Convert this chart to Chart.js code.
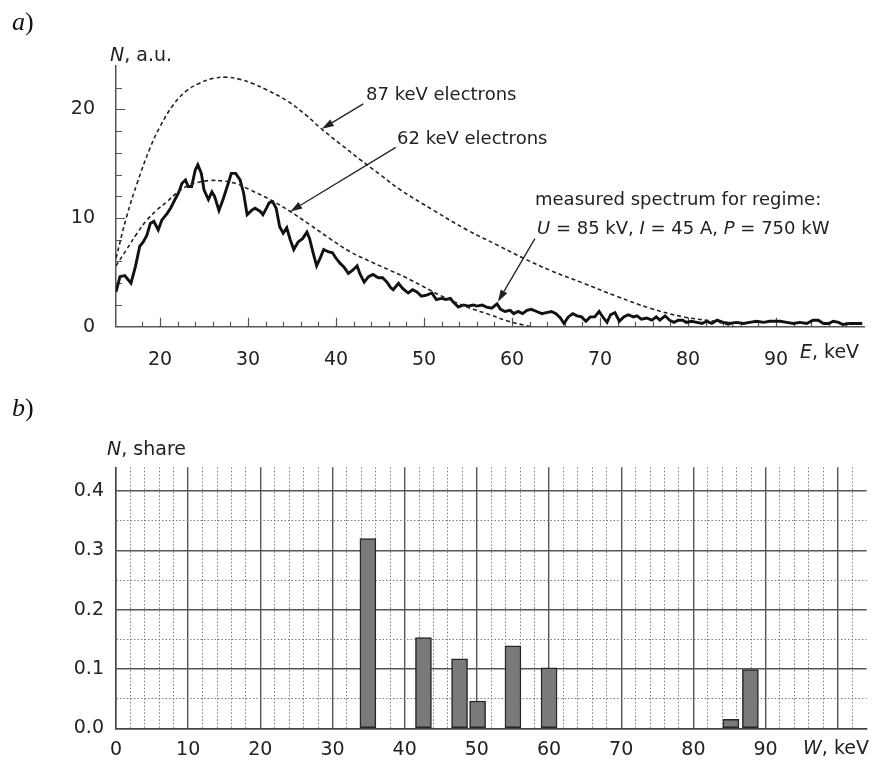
<!DOCTYPE html>
<html>
<head>
<meta charset="utf-8">
<script src="https://cdn.jsdelivr.net/npm/chart.js@4"></script>
<style>
  body { margin: 0; background: #fff; }
  #wrap { position: relative; width: 878px; height: 770px; overflow: hidden; }
  canvas { position: absolute; left: 0; }
  .t { position: absolute; font-family: "DejaVu Sans", sans-serif; font-size: 19px; line-height: 1; white-space: nowrap; color: #222; }
  .n { font-size: 18px; }
  .pl { font-family: "Liberation Serif", serif; font-size: 26px; color: #111; }
</style>
</head>
<body>
<div id="wrap">
  <canvas id="spec" width="878" height="385" style="top:0"></canvas>
  <canvas id="share" width="878" height="385" style="top:385px"></canvas>

  <div class="t pl" style="left:12px;top:9px"><i>a</i>)</div>
  <div class="t" style="left:110px;top:45px"><i>N</i>, a.u.</div>
  <div class="t" style="left:800px;top:342px"><i>E</i>, keV</div>
  <div class="t n" style="left:366px;top:85px">87 keV electrons</div>
  <div class="t n" style="left:397px;top:129px">62 keV electrons</div>
  <div class="t n" style="left:535px;top:190px">measured spectrum for regime:</div>
  <div class="t n" style="left:537px;top:219px"><i>U</i> = 85 kV, <i>I</i> = 45 A, <i>P</i> = 750 kW</div>

  <div class="t pl" style="left:12px;top:395px"><i>b</i>)</div>
  <div class="t" style="left:107px;top:439px"><i>N</i>, share</div>
  <div class="t" style="left:803px;top:738px"><i>W</i>, keV</div>
</div>
<script>
// (a) calculated spectra for mono-energetic electrons
const e87 = [15, 16.2, 17.4, 18.9, 20.0, 21.5, 23.0, 24.5, 26.1, 27.6, 29.1, 30.6, 32.1, 34.4, 36.7, 38.2, 40.5, 42.7, 45.0, 47.3, 51.1, 54.9, 58.6, 61.3, 64.3, 68.1, 71.9, 75.7, 79.5, 83.3, 84.4, 85.2];
const n87 = [6.3, 10.1, 13.2, 16.5, 18.4, 20.4, 21.7, 22.4, 22.85, 22.95, 22.75, 22.35, 21.8, 20.8, 19.4, 18.3, 16.8, 15.4, 14.0, 12.6, 10.7, 8.9, 7.4, 6.3, 5.2, 4.0, 2.8, 1.7, 0.9, 0.45, 0.2, 0];
const e62 = [15, 16.2, 17.4, 18.5, 19.6, 20.8, 21.9, 23.0, 24.2, 25.7, 27.2, 28.7, 30.2, 32.5, 34.8, 37.0, 39.3, 41.6, 43.9, 46.1, 48.0, 49.9, 51.8, 53.7, 55.6, 57.5, 59.4, 61.3, 62.2];
const n62 = [5.6, 7.1, 8.6, 9.8, 10.7, 11.5, 12.3, 12.9, 13.25, 13.45, 13.4, 13.15, 12.6, 11.7, 10.6, 9.4, 8.1, 6.9, 6.0, 5.2, 4.5, 3.7, 2.9, 2.2, 1.6, 1.1, 0.55, 0.15, 0];

// (a) measured spectrum, U = 85 kV
const measE = [15.0, 15.45, 16.0, 16.7, 17.2, 17.7, 18.1, 18.5, 18.9, 19.3, 19.8, 20.2, 20.8, 21.2, 21.7, 22.1, 22.5, 22.9, 23.2, 23.6,
  24.0, 24.3, 24.7, 25.0, 25.5, 25.9, 26.2, 26.7, 27.2, 27.8, 28.1, 28.6, 29.1, 29.5, 29.9, 30.4, 30.8, 31.4, 31.7, 32.1,
  32.4, 32.8, 33.2, 33.6, 34.0, 34.4, 34.8, 35.2, 35.7, 36.2, 36.7, 37.0, 37.4, 37.8, 38.2, 38.6, 39.1, 39.6, 40.0, 40.5,
  40.9, 41.4, 41.9, 42.4, 42.7, 43.2, 43.7, 44.2, 44.8, 45.3, 45.8, 46.2, 46.5, 47.1, 47.6, 48.2, 48.7, 49.2, 49.7, 50.3,
  50.9, 51.4, 52.0, 52.5, 53.0, 53.3, 53.9, 54.5, 55.0, 55.6, 56.0, 56.6, 57.1, 57.7, 58.3, 58.7, 59.2, 59.8, 60.2, 60.7,
  61.2, 61.7, 62.2, 62.8, 63.4, 63.9, 64.5, 65.0, 65.5, 65.9, 66.4, 66.9, 67.4, 67.9, 68.4, 68.9, 69.4, 69.9, 70.4, 70.8,
  71.2, 71.7, 72.2, 72.7, 73.2, 73.8, 74.2, 74.7, 75.3, 75.9, 76.4, 76.8, 77.4, 77.9, 78.4, 78.9, 79.4, 79.8, 80.4, 81.0,
  81.6, 82.1, 82.7, 83.3, 84.0, 84.8, 85.5, 86.3, 87.0, 87.8, 88.6, 89.3, 90.5, 91.2, 92.0, 92.7, 93.5, 94.2, 94.8, 95.4,
  96.0, 96.5, 97.1, 97.6, 98.4, 99.2, 99.8];
const measN = [3.2, 4.6, 4.7, 4.0, 5.5, 7.4, 7.8, 8.4, 9.5, 9.7, 8.9, 9.8, 10.4, 10.9, 11.7, 12.3, 13.2, 13.5, 12.9, 12.9,
  14.4, 14.9, 14.1, 12.6, 11.7, 12.4, 12.0, 10.7, 11.8, 13.3, 14.1, 14.1, 13.5, 12.3, 10.3, 10.7, 10.9, 10.6, 10.3, 10.9,
  11.4, 11.5, 10.9, 9.2, 8.6, 9.1, 8.0, 7.1, 7.8, 8.1, 8.7, 8.1, 6.8, 5.6, 6.3, 7.1, 6.9, 6.8, 6.3, 5.8,
  5.5, 4.9, 5.2, 5.6, 4.9, 4.1, 4.6, 4.8, 4.5, 4.5, 4.1, 3.6, 3.4, 4.0, 3.5, 3.1, 3.4, 3.2, 2.8, 2.9,
  3.1, 2.5, 2.6, 2.5, 2.6, 2.3, 1.8, 2.0, 1.9, 2.0, 1.9, 2.0, 1.8, 1.7, 2.1, 1.6, 1.4, 1.5, 1.2, 1.4,
  1.2, 1.5, 1.6, 1.4, 1.2, 1.3, 1.4, 1.2, 0.8, 0.3, 0.9, 1.2, 1.0, 0.9, 0.5, 0.9, 0.9, 1.4, 0.8, 0.4,
  1.1, 1.3, 0.5, 0.9, 1.1, 0.9, 1.0, 0.7, 0.8, 0.6, 0.9, 0.6, 1.0, 0.6, 0.4, 0.6, 0.6, 0.4, 0.5, 0.4,
  0.3, 0.5, 0.3, 0.6, 0.4, 0.3, 0.4, 0.3, 0.4, 0.5, 0.4, 0.5, 0.5, 0.4, 0.3, 0.4, 0.3, 0.6, 0.6, 0.3,
  0.3, 0.5, 0.4, 0.2, 0.3, 0.3, 0.3];

// (b) electron energy shares
const beamW = [34.9, 42.6, 47.6, 50.1, 55.0, 60.0, 85.2, 87.9];
const beamShare = [0.32, 0.153, 0.117, 0.046, 0.139, 0.102, 0.015, 0.099];

// arrows from the labels in (a), in data units [E, N]
const arrows = [
  { from: [43.1, 20.5], to: [38.4, 18.2] },
  { from: [46.8, 16.5], to: [34.8, 10.6] },
  { from: [62.6, 8.1], to: [58.4, 2.3] }
];

const pairs = (xs, ys) => xs.map((x, i) => ({ x: x, y: ys[i] }));
const tickFont = { family: 'DejaVu Sans', size: 19 };
const near = (v, step) => Math.abs(v / step - Math.round(v / step)) < 1e-6;

// ticks of (a) point into the plot
const inTicks = {
  id: 'inTicks',
  beforeDatasetsDraw(chart) {
    const { ctx, chartArea: a, scales: { x, y } } = chart;
    ctx.save();
    ctx.strokeStyle = '#555';
    ctx.lineWidth = 1.2;
    ctx.beginPath();
    x.ticks.forEach(t => {
      if (!near(t.value, 2) || t.value <= x.min || t.value >= x.max) return;
      const px = Math.round(x.getPixelForValue(t.value)) + 0.5;
      ctx.moveTo(px, a.bottom);
      ctx.lineTo(px, a.bottom - (near(t.value, 10) ? 9 : 5));
    });
    y.ticks.forEach(t => {
      if (t.value <= y.min || t.value >= y.max) return;
      const py = Math.round(y.getPixelForValue(t.value)) + 0.5;
      ctx.moveTo(a.left, py);
      ctx.lineTo(a.left + (near(t.value, 10) ? 9 : 6), py);
    });
    ctx.stroke();
    ctx.restore();
  }
};

const arrowPlugin = {
  id: 'arrows',
  afterDatasetsDraw(chart) {
    const { ctx, scales: { x, y } } = chart;
    ctx.save();
    ctx.strokeStyle = '#222';
    ctx.fillStyle = '#222';
    ctx.lineWidth = 1.3;
    arrows.forEach(ar => {
      const x1 = x.getPixelForValue(ar.from[0]), y1 = y.getPixelForValue(ar.from[1]);
      const x2 = x.getPixelForValue(ar.to[0]), y2 = y.getPixelForValue(ar.to[1]);
      const ang = Math.atan2(y2 - y1, x2 - x1);
      const len = 12, half = 3.8;
      const bx = x2 - len * Math.cos(ang), by = y2 - len * Math.sin(ang);
      ctx.beginPath();
      ctx.moveTo(x1, y1);
      ctx.lineTo(bx, by);
      ctx.stroke();
      ctx.beginPath();
      ctx.moveTo(x2, y2);
      ctx.lineTo(bx + half * Math.sin(ang), by - half * Math.cos(ang));
      ctx.lineTo(bx - half * Math.sin(ang), by + half * Math.cos(ang));
      ctx.closePath();
      ctx.fill();
    });
    ctx.restore();
  }
};

new Chart(document.getElementById('spec'), {
  type: 'line',
  data: {
    datasets: [{
      label: '87 keV electrons',
      data: pairs(e87, n87),
      borderColor: '#222',
      borderWidth: 1.6,
      borderDash: [4, 3],
      pointRadius: 0,
      tension: 0.4
    }, {
      label: '62 keV electrons',
      data: pairs(e62, n62),
      borderColor: '#222',
      borderWidth: 1.6,
      borderDash: [4, 3],
      pointRadius: 0,
      tension: 0.4
    }, {
      label: 'measured spectrum',
      data: pairs(measE, measN),
      borderColor: '#111',
      borderWidth: 2.9,
      pointRadius: 0,
      tension: 0
    }]
  },
  options: {
    responsive: false,
    animation: false,
    layout: { padding: { top: 65.8, right: 14, left: 0, bottom: 0 } },
    plugins: { legend: { display: false }, tooltip: { enabled: false } },
    scales: {
      x: {
        type: 'linear', min: 15, max: 100,
        afterFit: s => { s.height = 58.3; },
        grid: { display: false },
        border: { color: '#555', width: 1.5 },
        ticks: {
          stepSize: 2, autoSkip: false, maxRotation: 0, padding: 14, color: '#222', font: tickFont,
          callback: v => (near(v, 10) && v >= 20 && v <= 90) ? v : ''
        }
      },
      y: {
        min: 0, max: 24,
        afterFit: s => { s.width = 116; },
        grid: { display: false },
        border: { color: '#555', width: 1.5 },
        ticks: {
          stepSize: 2, autoSkip: false, padding: 13, color: '#222', font: tickFont,
          callback: v => near(v, 10) ? v : ''
        }
      }
    }
  },
  plugins: [inTicks, arrowPlugin]
});

const gridX = c => {
  const v = c.tick ? c.tick.value : 0;
  if (v > 102) return 'rgba(0,0,0,0)';
  return near(v, 10) ? '#555' : '#7c7c7c';
};
const gridY = c => {
  const v = c.tick ? c.tick.value : 0;
  return near(v, 0.1) ? '#555' : '#7c7c7c';
};

new Chart(document.getElementById('share'), {
  type: 'bar',
  data: {
    datasets: [{
      label: 'share',
      data: pairs(beamW, beamShare),
      backgroundColor: '#7a7a7a',
      borderColor: '#262626',
      borderWidth: 1.5,
      borderSkipped: false,
      barThickness: 16
    }]
  },
  options: {
    responsive: false,
    animation: false,
    layout: { padding: { top: 82.3, right: 11.4, left: 0, bottom: 0 } },
    plugins: { legend: { display: false }, tooltip: { enabled: false } },
    scales: {
      x: {
        type: 'linear', min: 0, max: 104, offset: false,
        afterFit: s => { s.height = 41.7; },
        grid: {
          offset: false, drawTicks: false, color: gridX,
          lineWidth: c => (c.tick && near(c.tick.value, 10)) ? 1.4 : 1
        },
        border: {
          color: '#444', width: 1.5,
          dash: c => (c.tick && !near(c.tick.value, 10)) ? [1.5, 2] : []
        },
        ticks: {
          stepSize: 2, autoSkip: false, maxRotation: 0, padding: 10, color: '#222', font: tickFont,
          callback: v => (near(v, 10) && v <= 90) ? v : ''
        }
      },
      y: {
        min: 0, max: 0.44,
        afterFit: s => { s.width = 116; },
        grid: {
          drawTicks: false, color: gridY,
          lineWidth: c => (c.tick && near(c.tick.value, 0.1)) ? 1.4 : 1
        },
        border: {
          color: '#444', width: 1.5,
          dash: c => (c.tick && !near(c.tick.value, 0.1)) ? [1.5, 2] : []
        },
        ticks: {
          stepSize: 0.05, includeBounds: false, autoSkip: false, padding: 12, color: '#222', font: tickFont,
          callback: v => near(v, 0.1) ? v.toFixed(1) : ''
        }
      }
    }
  }
});
</script>
</body>
</html>
